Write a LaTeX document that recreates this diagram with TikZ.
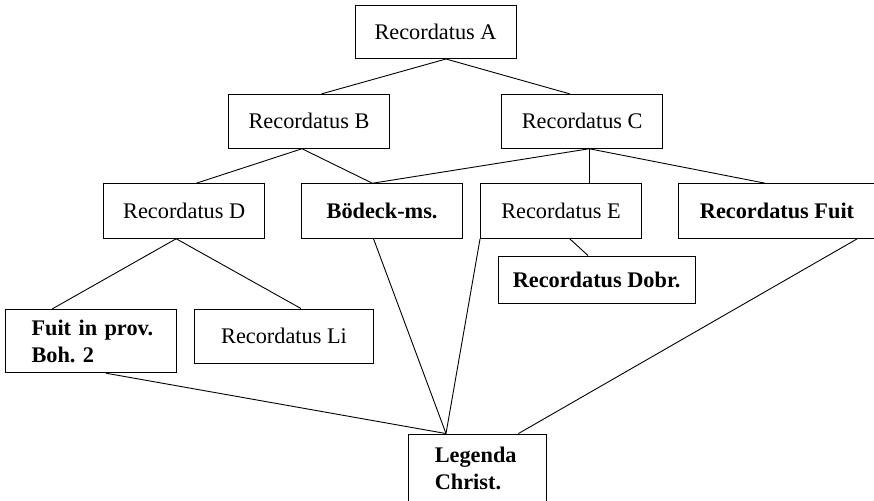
\documentclass[tikz,border=0pt]{standalone}
\usepackage{fontspec}
\setmainfont{Liberation Serif}
\begin{document}
\begin{tikzpicture}[x=1pt,y=-1pt,
  box/.style={draw, line width=0.9pt, inner sep=0pt, align=center,
    font=\fontsize{22.3}{27}\selectfont},
  leftbox/.style={box, align=left, inner xsep=26pt},
  link/.style={line width=0.9pt}]
\useasboundingbox (0,0) rectangle (874,500);

% upper levels
\node[box, minimum width=161, minimum height=53.5] (A) at (435.5,31.8) {Recordatus A};
\node[box, minimum width=161, minimum height=54] (B) at (309,121.3) {Recordatus B};
\node[box, minimum width=161, minimum height=54] (C) at (582.2,121.3) {Recordatus C};

% third level
\node[box, minimum width=161, minimum height=54.6] (D) at (184.2,211) {Recordatus D};
\node[box, minimum width=161, minimum height=54.6] (Bod) at (382.1,211) {\bfseries Bödeck-ms.};
\node[box, minimum width=161, minimum height=54.6] (E) at (561,211) {Recordatus E};
\node[box, minimum width=198, minimum height=54.6] (Fuit) at (777,211) {\bfseries Recordatus Fuit};

% fourth level
\node[box, minimum width=197, minimum height=47] (Dobr) at (596.6,279.5) {\bfseries Recordatus Dobr.};
\node[leftbox, text width=119pt, minimum height=63.5] (Prov) at (91,341) {\bfseries\mbox{Fuit in prov.}\\\mbox{Boh.\ 2}};
\node[box, minimum width=179, minimum height=54] (Li) at (284,336) {Recordatus Li};

% bottom
\node[leftbox, text width=86pt, minimum height=68] (Leg) at (477.8,468) {\bfseries Legenda\\Christ.};

% connectors
\draw[link] ([xshift=10.5pt]A.south) -- ([xshift=12.6pt]B.north);
\draw[link] ([xshift=10.5pt]A.south) -- ([xshift=-12.5pt]C.north);
\draw[link] ([xshift=-7pt]B.south) -- ([xshift=12pt]D.north);
\draw[link] ([xshift=-7pt]B.south) -- ([xshift=-9.7pt]Bod.north);
\draw[link] ([xshift=7pt]C.south) -- ([xshift=-9.7pt]Bod.north);
\draw[link] ([xshift=7pt]C.south) -- ([xshift=28.2pt]E.north);
\draw[link] ([xshift=7pt]C.south) -- ([xshift=-11.7pt]Fuit.north);
\draw[link] ([xshift=-8pt]D.south) -- ([xshift=-38.6pt]Prov.north);
\draw[link] ([xshift=-8pt]D.south) -- ([xshift=17pt]Li.north);
\draw[link] ([xshift=8.7pt]E.south) -- ([xshift=-8.6pt]Dobr.north);
\draw[link] ([xshift=-8.6pt]Bod.south) -- ([xshift=-31.8pt]Leg.north);
\draw[link] (E.south west) -- ([xshift=-31.8pt]Leg.north);
\draw[link] ([xshift=15pt]Prov.south) -- ([xshift=-31.8pt]Leg.north);
\draw[link] ([xshift=80.3pt]Fuit.south) -- ([xshift=40.6pt]Leg.north);
\end{tikzpicture}
\end{document}
